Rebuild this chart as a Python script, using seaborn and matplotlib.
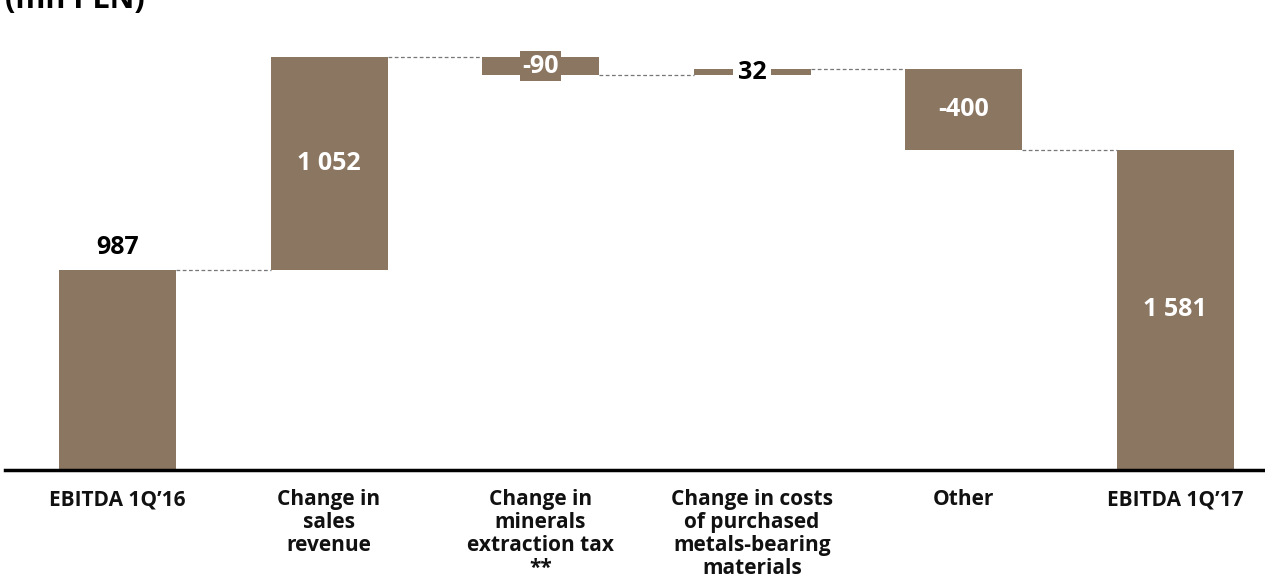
import matplotlib
matplotlib.use("Agg")
import matplotlib.pyplot as plt
import seaborn as sns
import numpy as np

categories = ["EBITDA 1Q\u201916", "Change in\nsales\nrevenue", "Change in\nminerals\nextraction tax\n**",
              "Change in costs\nof purchased\nmetals-bearing\nmaterials", "Other", "EBITDA 1Q\u201917"]
values = [987, 1052, -90, 32, -400, 1581]
labels = ["987", "1 052", "-90", "32", "-400", "1 581"]
kinds = ["total", "delta", "delta", "delta", "delta", "total"]

sns.set_theme(style="white")
plt.rcParams["font.family"] = ["Open Sans", "DejaVu Sans"]

BAR = "#8B7662"

# running totals
bottoms, heights, ends = [], [], []
run = 0
for v, k in zip(values, kinds):
    if k == "total":
        bottoms.append(0); heights.append(v); run = v
    else:
        start = run; run = run + v
        bottoms.append(min(start, run)); heights.append(abs(v))
    ends.append(run)

W, H = 1265, 584
fig = plt.figure(figsize=(W / 100, H / 100), dpi=100)
ax = fig.add_axes([5 / W, 114 / H, 1 - 5 / W, 470 / H])

sns.barplot(x=list(range(len(values))), y=heights, color=BAR, width=0.553,
            saturation=1, ax=ax, linewidth=0)
for p, b in zip(ax.patches, bottoms):
    p.set_y(b)

ax.set_xlim(-0.532, 5.425)
ax.set_ylim(0, 2321)

# connectors
half = 0.553 / 2
for i in range(len(values) - 1):
    ax.plot([i + half, i + 1 - half], [ends[i], ends[i]], color="#777777",
            lw=0.9, ls=(0, (3, 2)), zorder=1)

# labels
FS = 18
for i, (lab, b, h) in enumerate(zip(labels, bottoms, heights)):
    c = b + h / 2
    if i == 0:
        ax.annotate(lab, (i, b + h), xytext=(0, 7), textcoords="offset points",
                    ha="center", va="bottom", fontsize=FS, fontweight="bold", color="black")
    elif lab == "-90":
        ax.text(i, c, lab, ha="center", va="center", fontsize=FS, fontweight="bold",
                color="white", bbox=dict(boxstyle="square,pad=0.1", fc=BAR, ec="none"))
    elif lab == "32":
        ax.text(i, c, lab, ha="center", va="center", fontsize=FS, fontweight="bold",
                color="black", bbox=dict(boxstyle="square,pad=0.2", fc="white", ec="none"))
    else:
        ax.text(i, c, lab, ha="center", va="center", fontsize=FS, fontweight="bold",
                color="white")

ax.set_xticks(range(len(values)))
ax.set_xticklabels(categories, fontsize=15, fontweight="bold", color="#111111",
                   linespacing=1.12, va="top")
ax.tick_params(axis="x", length=0, pad=14)
ax.set_yticks([])
ax.set_xlabel(""); ax.set_ylabel("")
for s in ["top", "left", "right"]:
    ax.spines[s].set_visible(False)
ax.spines["bottom"].set_color("black")
ax.spines["bottom"].set_linewidth(2.5)

fig.text(5 / W, 1 - 8 / H, "(mn PLN)", fontsize=22, fontweight="bold",
         ha="left", va="baseline", color="black")

fig.savefig("out.png", dpi=100)
